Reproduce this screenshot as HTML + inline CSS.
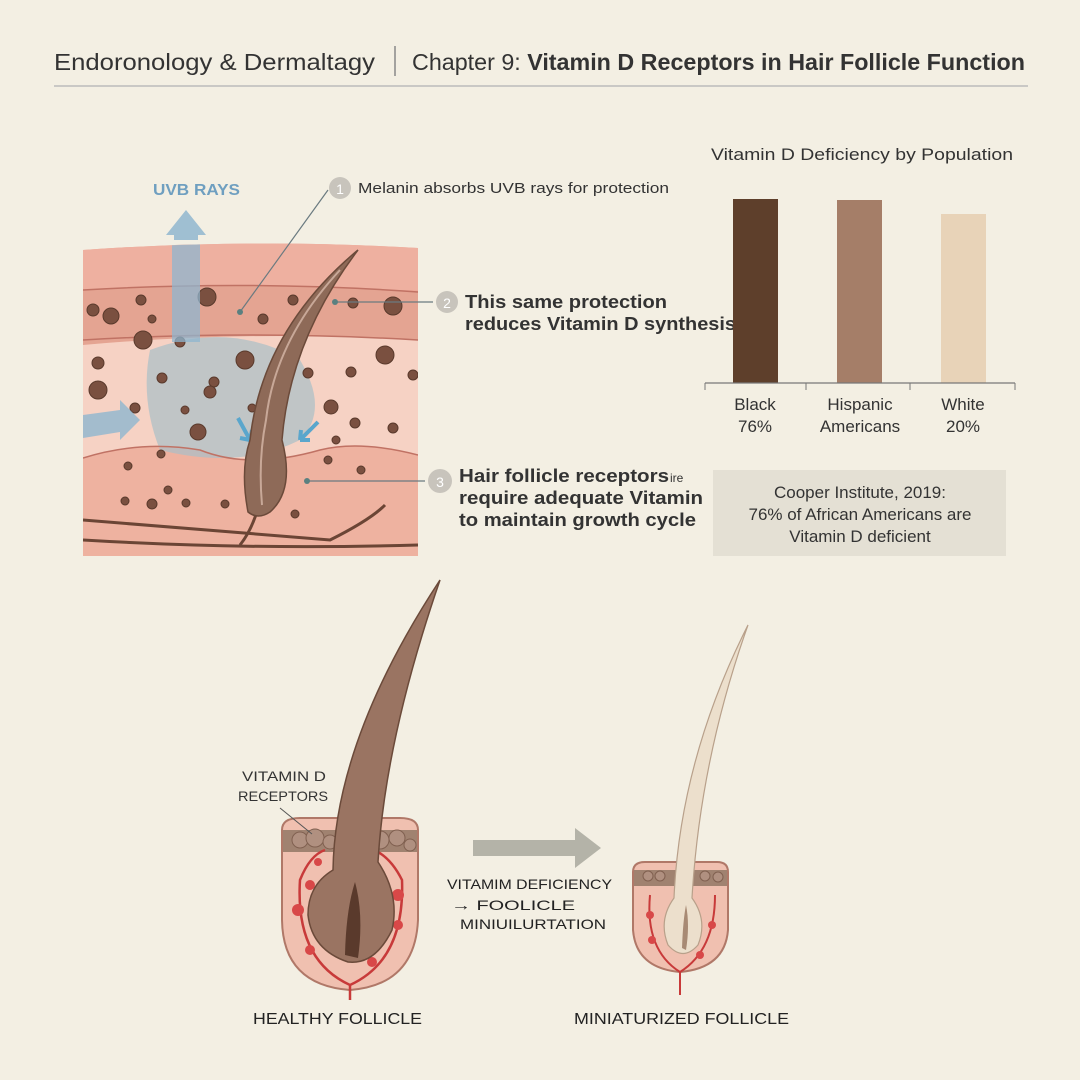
<!DOCTYPE html>
<html><head><meta charset="utf-8"><style>
html,body{margin:0;padding:0;background:#f3efe3;}
svg{display:block}
text{font-family:"Liberation Sans",sans-serif;}
</style></head><body>
<svg width="1080" height="1080" viewBox="0 0 1080 1080">
<rect width="1080" height="1080" fill="#f3efe3"/>
<text x="54" y="70" font-size="23" fill="#333" textLength="321" lengthAdjust="spacingAndGlyphs">Endoronology &amp; Dermaltagy</text>
<line x1="395" y1="46" x2="395" y2="76" stroke="#888" stroke-width="1.5"/>
<text x="412" y="70" font-size="23" fill="#333" textLength="613" lengthAdjust="spacingAndGlyphs">Chapter 9: <tspan font-weight="bold">Vitamin D Receptors in Hair Follicle Function</tspan></text>
<line x1="54" y1="86" x2="1028" y2="86" stroke="#bbb" stroke-width="1.5"/>

<defs><clipPath id="sk"><path d="M83 250 Q250 238 418 248 L418 556 L83 556 Z"/></clipPath></defs>
<g clip-path="url(#sk)">
<rect x="83" y="230" width="340" height="330" fill="#eea999"/>
<rect x="83" y="230" width="340" height="60" fill="#eeb0a0"/>
<path d="M83 290 Q250 280 418 292 L418 340 Q250 330 83 345 Z" fill="#e4a492"/>
<path d="M83 345 Q250 330 418 340 L418 455 Q360 440 320 450 Q250 470 200 450 Q140 440 83 458 Z" fill="#f6d2c4"/>
<path d="M83 458 Q140 440 200 450 Q250 470 320 450 Q360 440 418 455 L418 556 L83 556 Z" fill="#eeb2a0"/>
<path d="M150 350 Q230 320 300 360 Q330 410 300 440 Q240 470 160 450 Q140 400 150 350Z" fill="#a9bfc8" opacity="0.7"/>
<path d="M83 290 Q250 280 418 292 M83 340 Q250 330 418 340 M83 458 Q140 440 200 450 Q250 470 320 450 Q360 440 418 455" stroke="#c07264" stroke-width="1.5" fill="none"/>
<path d="M83 520 Q200 530 330 540 Q370 520 385 505 M83 540 Q250 550 418 545 M240 545 Q260 520 265 470" stroke="#6b4535" stroke-width="3" fill="none"/>
<g fill="#7a5040" stroke="#5a3a2c" stroke-width="1">
<circle cx="93" cy="310" r="6"/><circle cx="111" cy="316" r="8"/><circle cx="141" cy="300" r="5"/><circle cx="152" cy="319" r="4"/><circle cx="207" cy="297" r="9"/><circle cx="263" cy="319" r="5"/><circle cx="293" cy="300" r="5"/><circle cx="353" cy="303" r="5"/><circle cx="393" cy="306" r="9"/><circle cx="143" cy="340" r="9"/><circle cx="180" cy="342" r="5"/><circle cx="245" cy="360" r="9"/><circle cx="98" cy="363" r="6"/><circle cx="98" cy="390" r="9"/><circle cx="162" cy="378" r="5"/><circle cx="214" cy="382" r="5"/><circle cx="210" cy="392" r="6"/><circle cx="135" cy="408" r="5"/><circle cx="185" cy="410" r="4"/><circle cx="198" cy="432" r="8"/><circle cx="252" cy="408" r="4"/><circle cx="308" cy="373" r="5"/><circle cx="351" cy="372" r="5"/><circle cx="385" cy="355" r="9"/><circle cx="413" cy="375" r="5"/><circle cx="331" cy="407" r="7"/><circle cx="355" cy="423" r="5"/><circle cx="393" cy="428" r="5"/><circle cx="336" cy="440" r="4"/><circle cx="128" cy="466" r="4"/><circle cx="161" cy="454" r="4"/><circle cx="168" cy="490" r="4"/><circle cx="125" cy="501" r="4"/><circle cx="152" cy="504" r="5"/><circle cx="186" cy="503" r="4"/><circle cx="225" cy="504" r="4"/><circle cx="328" cy="460" r="4"/><circle cx="361" cy="470" r="4"/><circle cx="295" cy="514" r="4"/>
</g>
<rect x="172" y="232" width="28" height="110" fill="#8fb6cf" opacity="0.75"/>
<path d="M83 415 L120 410 L120 400 L140 420 L120 440 L120 432 L83 438 Z" fill="#8fb6cf" opacity="0.8"/>
<path d="M238 418 L250 440 M250 440 L240 438 M250 440 L252 430" stroke="#5aa6cc" stroke-width="4" fill="none"/>
<path d="M318 422 L300 440 M300 440 L310 440 M300 440 L301 430" stroke="#5aa6cc" stroke-width="4" fill="none"/>
<path d="M248 512 Q240 470 250 440 Q262 330 358 250 Q290 340 282 440 Q295 490 270 512 Q258 520 248 512Z" fill="#8e6a58" stroke="#6b4a3a" stroke-width="1.5"/>
<path d="M262 505 Q258 460 266 420 Q275 340 340 270" stroke="#c8a898" stroke-width="2" fill="none"/>
</g>
<path d="M166 235 L186 210 L206 235 L198 235 L198 240 L174 240 L174 235 Z" fill="#8fb6cf" opacity="0.85"/>
<text x="153" y="195" font-size="16" fill="#6f9fc0" font-weight="bold" textLength="87" lengthAdjust="spacingAndGlyphs">UVB RAYS</text>

<line x1="328" y1="190" x2="240" y2="312" stroke="#6a7a80" stroke-width="1.2"/><circle cx="240" cy="312" r="3" fill="#5a8080"/>
<circle cx="340" cy="188" r="11" fill="#c8c4bc"/><text x="340" y="194" font-size="14" fill="#fff" text-anchor="middle">1</text>
<text x="358" y="193" font-size="15" fill="#333" textLength="311" lengthAdjust="spacingAndGlyphs">Melanin absorbs UVB rays for protection</text>
<line x1="335" y1="302" x2="433" y2="302" stroke="#6a7a80" stroke-width="1.2"/><circle cx="335" cy="302" r="3" fill="#5a8080"/>
<circle cx="447" cy="302" r="11" fill="#c8c4bc"/><text x="447" y="308" font-size="14" fill="#fff" text-anchor="middle">2</text>
<text x="465" y="308" font-size="18" font-weight="bold" fill="#333" textLength="202" lengthAdjust="spacingAndGlyphs">This same protection</text>
<text x="465" y="330" font-size="18" font-weight="bold" fill="#333" textLength="271" lengthAdjust="spacingAndGlyphs">reduces Vitamin D synthesis</text>
<line x1="307" y1="481" x2="425" y2="481" stroke="#6a7a80" stroke-width="1.2"/><circle cx="307" cy="481" r="3" fill="#5a8080"/>
<circle cx="440" cy="481" r="12" fill="#c8c4bc"/><text x="440" y="487" font-size="14" fill="#fff" text-anchor="middle">3</text>
<text x="459" y="482" font-size="18" font-weight="bold" fill="#333" textLength="210" lengthAdjust="spacingAndGlyphs">Hair follicle receptors</text><text x="670" y="482" font-size="12" fill="#333">ire</text>
<text x="459" y="504" font-size="18" font-weight="bold" fill="#333" textLength="244" lengthAdjust="spacingAndGlyphs">require adequate Vitamin</text>
<text x="459" y="526" font-size="18" font-weight="bold" fill="#333" textLength="237" lengthAdjust="spacingAndGlyphs">to maintain growth cycle</text>

<text x="711" y="160" font-size="17" fill="#333" textLength="302" lengthAdjust="spacingAndGlyphs">Vitamin D Deficiency by Population</text>
<rect x="733" y="199" width="45" height="184" fill="#5e3f2b"/>
<rect x="837" y="200" width="45" height="183" fill="#a57e68"/>
<rect x="941" y="214" width="45" height="169" fill="#e8d3b8"/>
<line x1="705" y1="383" x2="1015" y2="383" stroke="#777" stroke-width="1.2"/>
<path d="M705 383V390M806 383V390M910 383V390M1015 383V390" stroke="#777"/>
<g font-size="17" fill="#333" text-anchor="middle">
<text x="755" y="410">Black</text><text x="755" y="432">76%</text>
<text x="860" y="410">Hispanic</text><text x="860" y="432">Americans</text>
<text x="963" y="410">White</text><text x="963" y="432">20%</text>
</g>
<rect x="713" y="470" width="293" height="86" fill="#e4e0d4"/>
<g font-size="17" fill="#333" text-anchor="middle">
<text x="860" y="498">Cooper Institute, 2019:</text><text x="860" y="520">76% of African Americans are</text><text x="860" y="542">Vitamin D deficient</text>
</g>

<path d="M282 830 Q282 818 300 818 L400 818 Q418 818 418 830 L418 920 Q415 985 350 990 Q283 985 282 920 Z" fill="#f0c0b0" stroke="#b07868" stroke-width="2"/>
<path d="M283 830 L417 830 L417 852 L283 852 Z" fill="#a08270"/>
<g fill="#b09080" stroke="#806050"><circle cx="300" cy="840" r="8"/><circle cx="315" cy="838" r="9"/><circle cx="330" cy="842" r="7"/><circle cx="380" cy="840" r="9"/><circle cx="397" cy="838" r="8"/><circle cx="410" cy="845" r="6"/></g>
<path d="M350 1000 L350 985 Q295 960 300 880 Q310 855 325 850 M350 985 Q405 960 402 880 Q392 860 378 852" stroke="#c83a3a" stroke-width="2.5" fill="none"/>
<g fill="#d84848"><circle cx="310" cy="885" r="5"/><circle cx="298" cy="910" r="6"/><circle cx="310" cy="950" r="5"/><circle cx="398" cy="895" r="6"/><circle cx="398" cy="925" r="5"/><circle cx="372" cy="962" r="5"/><circle cx="318" cy="862" r="4"/></g>
<path d="M333 870 Q335 740 440 580 Q385 740 378 862 Q400 895 392 930 Q375 965 348 962 Q312 950 308 915 Q308 885 333 870Z" fill="#9a7462" stroke="#6b4a3a" stroke-width="1.5"/>
<path d="M345 955 Q346 910 355 882 Q364 915 358 958" fill="#5a3a2c"/>
<text x="242" y="781" font-size="14" fill="#333" textLength="84" lengthAdjust="spacingAndGlyphs">VITAMIN D</text>
<text x="238" y="801" font-size="14" fill="#333" textLength="90" lengthAdjust="spacingAndGlyphs">RECEPTORS</text>
<line x1="280" y1="808" x2="312" y2="834" stroke="#555"/>
<text x="253" y="1024" font-size="16" fill="#222" textLength="169" lengthAdjust="spacingAndGlyphs">HEALTHY FOLLICLE</text>

<path d="M473 840 L575 840 L575 828 L601 848 L575 868 L575 856 L473 856 Z" fill="#b4b3a8"/>
<g font-size="14" fill="#222"><text x="447" y="889" textLength="165" lengthAdjust="spacingAndGlyphs">VITAMIM DEFICIENCY</text><text x="451" y="910" textLength="124" lengthAdjust="spacingAndGlyphs">→ FOOLICLE</text><text x="460" y="929" textLength="146" lengthAdjust="spacingAndGlyphs">MINIUILURTATION</text></g>

<path d="M633 872 Q633 862 645 862 L717 862 Q728 862 728 872 L728 930 Q725 968 680 972 Q636 968 633 930 Z" fill="#f0c0b0" stroke="#b07868" stroke-width="2"/>
<rect x="634" y="870" width="93" height="16" fill="#a08270"/>
<g fill="#b09080" stroke="#806050"><circle cx="648" cy="876" r="5"/><circle cx="660" cy="876" r="5"/><circle cx="705" cy="876" r="5"/><circle cx="718" cy="877" r="5"/></g>
<path d="M680 995 L680 972 Q645 950 650 895 M680 972 Q715 950 715 895" stroke="#c83a3a" stroke-width="2" fill="none"/>
<g fill="#d84848"><circle cx="650" cy="915" r="4"/><circle cx="652" cy="940" r="4"/><circle cx="712" cy="925" r="4"/><circle cx="700" cy="955" r="4"/></g>
<path d="M674 898 Q680 760 748 625 Q700 760 692 898 Q708 920 698 945 Q683 962 668 945 Q658 920 674 898Z" fill="#ecdfcc" stroke="#b8a08a" stroke-width="1.2"/>
<path d="M682 948 Q683 920 686 905 Q690 925 686 950" fill="#a88a74"/>
<text x="574" y="1024" font-size="16" fill="#222" textLength="215" lengthAdjust="spacingAndGlyphs">MINIATURIZED FOLLICLE</text>
</svg>
</body></html>
